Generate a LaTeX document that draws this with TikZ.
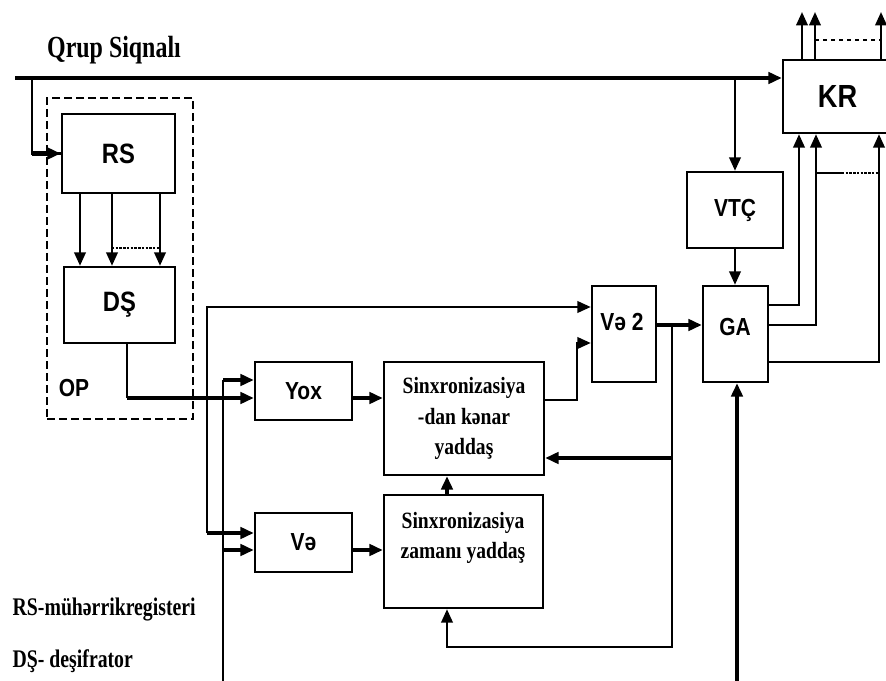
\documentclass[tikz,border=0pt]{standalone}
\usepackage{fontspec}
\setmainfont{Liberation Serif}
\newfontfamily\sansbf[FakeStretch=0.85]{Liberation Sans}
\newfontfamily\serifbf[FakeStretch=0.84]{Liberation Serif}
\newfontfamily\serifnarrow[FakeStretch=0.78]{Liberation Serif}
\usetikzlibrary{arrows.meta,positioning,calc}

\tikzset{
  wh/.style 2 args={minimum width=#1*0.75pt,minimum height=#2*0.75pt},
  box/.style={draw,line width=1.8pt,fill=white,inner sep=0pt},
  bus/.style={line width=2.8pt},
  wire/.style={line width=1.8pt},
  fat/.style={line width=3.6pt},
  lbl/.style={font=\sansbf\bfseries\fontsize{18.5}{20}\selectfont},
  big/.style={font=\sansbf\bfseries\fontsize{21}{24}\selectfont},
  txt/.style={font=\serifbf\bfseries\fontsize{17.5}{23}\selectfont},
  leg/.style={font=\serifnarrow\bfseries\fontsize{19}{22}\selectfont,anchor=base west},
}

\begin{document}
\begin{tikzpicture}[x=0.75pt,y=-0.75pt,>={Triangle[length=10pt,width=8.5pt]}]
  \useasboundingbox (0,0) rectangle (886,681);
  \node[font=\serifnarrow\bfseries\fontsize{23}{24}\selectfont] (qs) at (114,50) {Qrup Siqnalı};
  % OP hissəsi
  \node[draw,line width=2pt,dash pattern=on 6pt off 3pt,wh={146}{321}] (op) at (120,258.5) {};
  \node[lbl] (optxt) at (74,388) {OP};
  \node[box,big,wh={113}{79}] (rs) at (118.5,153.5) {RS};
  \node[box,big,wh={111}{76}] (ds) at (119.5,305) {DŞ};
  % bloklar
  \node[box,wh={109}{73},font=\sansbf\bfseries\fontsize{24}{26}\selectfont] (kr) at (837.5,96.5) {KR};
  \node[box,lbl,wh={96}{76}] (vtc) at (735,210) {VTÇ};
  \node[box,wh={64}{96}] (ve2) at (624,334) {};
  \node[lbl] (ve2txt) at (622,322) {Və 2};
  \node[box,wh={65}{96}] (ga) at (735.5,334) {};
  \node[lbl] (gatxt) at (735,327) {GA};
  \node[box,lbl,wh={97}{58}] (yox) at (303.5,391) {Yox};
  \node[box,lbl,wh={97}{59}] (ve) at (303.5,542.5) {Və};
  \node[box,txt,align=center,wh={160}{113}] (sdk) at (464,418.5) {Sinxronizasiya\\-dan kənar\\yaddaş};
  \node[box,wh={159}{113}] (szy) at (463.5,551.5) {};
  \node[txt,align=center] (szytxt) at (463,538) {Sinxronizasiya\\zamanı yaddaş};
  \node[leg] (leg1) at (8,615) {RS-mühərrikregisteri};
  \node[leg] (leg2) at (8,667) {DŞ- deşifrator};
  % qrup siqnalı xətti
  \coordinate (sigin) at (15,78);
  \coordinate (tap) at (32,78);
  \draw[bus,->] (sigin) -- (sigin -| kr.west);
  \draw[wire] (tap) |- (rs.west);
  \draw[fat,->] (tap |- rs.west) -- (rs.west);
  \foreach \x in {80,112,160} \draw[wire,->] (\x,0 |- rs.south) -- (\x,0 |- ds.north);
  \draw[wire,densely dotted] (112,248) -- (160,248);
  % DŞ -> Yox
  \coordinate (dso) at (127,398);
  \draw[wire] (127,0 |- ds.south) -- (dso);
  \draw[fat,->] (dso) -- (yox.west |- dso);
  % sol şaquli xətlər
  \coordinate (lowin) at (223,681);
  \draw[wire] (lowin) -- (223,380);
  \draw[fat,->] (223,380) -- (yox.west |- 0,380);
  \draw[fat,->] (223,550) -- (ve.west |- 0,550);
  \draw[wire,->] (207,533) |- (ve2.west |- 0,307);
  \draw[fat,->] (207,533) -- (ve.west |- 0,533);
  \draw[fat,->] (yox.east |- 0,398) -- (sdk.west |- 0,398);
  \draw[fat,->] (ve.east |- 0,550) -- (szy.west |- 0,550);
  \draw[fat,->] (szy.north -| 447,0) -- (sdk.south -| 447,0);
  \draw[wire,->] (sdk.east |- 0,400) -| (577,343) -- (ve2.west |- 0,343);
  % Və 2 -> GA və geri əlaqə
  \coordinate (fb) at (672,325);
  \draw[line width=2.6pt,->] (ve2.east |- fb) -- (ga.west |- fb);
  \draw[wire,->] (fb) |- (447,647) -- (szy.south -| 447,0);
  \draw[fat,->] (672,458) -- (sdk.east |- 0,458);
  \draw[wire,->] (vtc.north |- sigin) -- (vtc.north);
  \draw[wire,->] (vtc.south) -- (vtc.south |- ga.north);
  \coordinate (gain) at (737,681);
  \draw[line width=2.6pt,->] (gain) -- (gain |- ga.south);
  % GA -> KR
  \foreach \y/\x in {305/799,325/816,362/879} \draw[wire,->] (ga.east |- 0,\y) -| (\x,0 |- kr.south);
  \draw[wire] (816,173) -- (842,173);
  \draw[wire,densely dotted] (842,173) -- (879,173);
  % KR çıxışları
  \foreach \x in {802,815,881} \draw[wire,->] (\x,0 |- kr.north) -- (\x,12);
  \draw[wire,dashed] (815,40) -- (881,40);
\end{tikzpicture}
\end{document}
